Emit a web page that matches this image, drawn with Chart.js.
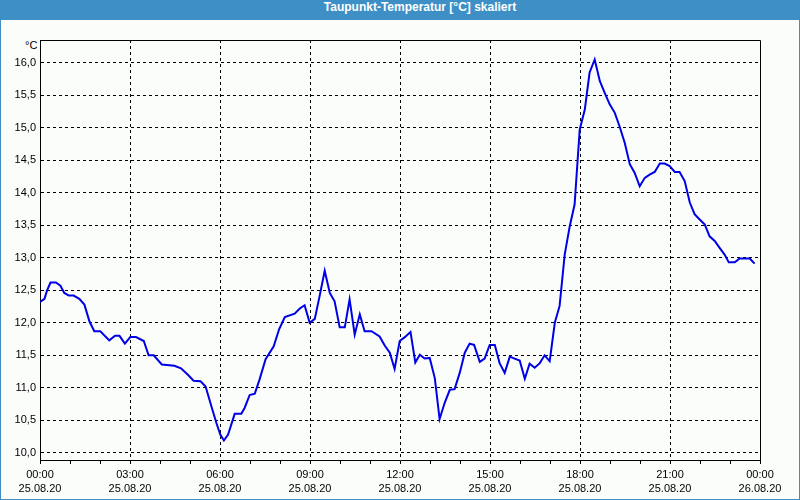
<!DOCTYPE html>
<html>
<head>
<meta charset="utf-8">
<script src="https://cdn.jsdelivr.net/npm/chart.js@4/dist/chart.umd.min.js"></script>
<style>
  html, body { margin: 0; padding: 0; background: #3d8fc5; }
  #frame { position: relative; width: 800px; height: 500px; overflow: hidden; }
  #inner { position: absolute; left: 1px; top: 20px; width: 798px; height: 479px; background: #fbfdfb; }
  #title { position: absolute; left: 20px; top: 0; width: 800px; height: 20px; line-height: 20px;
           text-align: center; color: #fff; font: bold 12px "Liberation Sans", Arial, sans-serif; }
  #unit { position: absolute; left: 25px; top: 39px; font: 11px "Liberation Sans", Arial, sans-serif; color: #000; }
  #chart { position: absolute; left: 0; top: 0; }
</style>
</head>
<body>
<div id="frame">
  <div id="inner"></div>
  <div id="title">Taupunkt-Temperatur [°C] skaliert</div>
  <div id="unit">°C</div>
  <canvas id="chart" width="800" height="500"></canvas>
</div>
<script>
// hours since 25.08.20 00:00
const times = [
  0, 0.15, 0.23, 0.35, 0.53, 0.68, 0.81, 0.96, 1.12, 1.31, 1.48, 1.65, 1.81, 2.01, 2.31, 2.5, 2.65, 2.83,
  3.01, 3.2, 3.46, 3.62, 3.79, 4.06, 4.48, 4.7, 4.93, 5.12, 5.35, 5.52, 5.71, 5.88, 6.01, 6.13, 6.27, 6.49,
  6.71, 6.82, 6.99, 7.16, 7.32, 7.52, 7.79, 7.97, 8.16, 8.49, 8.66, 8.82, 8.99, 9.16, 9.32, 9.49, 9.66, 9.82,
  9.99, 10.16, 10.32, 10.49, 10.66, 10.82, 11.05, 11.32, 11.49, 11.66, 11.82, 11.99, 12.16, 12.35, 12.51,
  12.66, 12.82, 12.99, 13.16, 13.32, 13.49, 13.66, 13.82, 13.99, 14.16, 14.32, 14.47, 14.66, 14.82, 14.99,
  15.16, 15.32, 15.49, 15.66, 15.82, 15.99, 16.16, 16.32, 16.49, 16.66, 16.82, 16.99, 17.16, 17.32, 17.49,
  17.66, 17.82, 17.99, 18.16, 18.32, 18.49, 18.66, 18.82, 18.99, 19.16, 19.32, 19.49, 19.66, 19.82, 19.99,
  20.16, 20.32, 20.49, 20.66, 20.82, 20.99, 21.16, 21.32, 21.49, 21.66, 21.82, 21.99, 22.16, 22.32, 22.49,
  22.66, 22.82, 22.96, 23.16, 23.32, 23.66, 23.82
];
const dewPoint = [
  12.32, 12.37, 12.49, 12.62, 12.62, 12.57, 12.46, 12.42, 12.42, 12.37, 12.28, 12.02, 11.87, 11.87, 11.73, 11.80, 11.80, 11.68,
  11.78, 11.78, 11.72, 11.50, 11.50, 11.36, 11.34, 11.30, 11.20, 11.11, 11.10, 11.02, 10.72, 10.46, 10.28, 10.19, 10.28, 10.60,
  10.60, 10.69, 10.89, 10.91, 11.13, 11.44, 11.64, 11.90, 12.09, 12.14, 12.22, 12.27, 12.00, 12.06, 12.41, 12.80, 12.46, 12.33,
  11.93, 11.93, 12.36, 11.82, 12.13, 11.87, 11.87, 11.79, 11.65, 11.54, 11.29, 11.72, 11.78, 11.86, 11.39,
  11.51, 11.45, 11.46, 11.15, 10.52, 10.77, 10.97, 10.98, 11.23, 11.54, 11.68, 11.66, 11.40, 11.45, 11.66,
  11.66, 11.38, 11.23, 11.48, 11.45, 11.42, 11.14, 11.37, 11.31, 11.38, 11.50, 11.41, 12.00, 12.26, 13.05,
  13.49, 13.82, 14.97, 15.28, 15.85, 16.05, 15.72, 15.54, 15.36, 15.23, 15.02, 14.77, 14.44, 14.31, 14.10,
  14.23, 14.28, 14.32, 14.45, 14.45, 14.41, 14.32, 14.32, 14.18, 13.85, 13.67, 13.59, 13.51, 13.33, 13.26,
  13.15, 13.05, 12.93, 12.93, 12.99, 12.99, 12.91
];
const timeLabels = ['00:00', '03:00', '06:00', '09:00', '12:00', '15:00', '18:00', '21:00', '00:00'];
const dateLabels = ['25.08.20', '25.08.20', '25.08.20', '25.08.20', '25.08.20', '25.08.20', '25.08.20', '25.08.20', '26.08.20'];
const yTickLabels = ['10,0', '10,5', '11,0', '11,5', '12,0', '12,5', '13,0', '13,5', '14,0', '14,5', '15,0', '15,5', '16,0'];

const font = { family: '"Liberation Sans", Arial, sans-serif', size: 11 };

const frameBox = {
  id: 'frameBox',
  afterDraw(chart) {
    const { ctx, chartArea: a } = chart;
    ctx.save();
    ctx.strokeStyle = '#000';
    ctx.lineWidth = 1;
    ctx.beginPath();
    ctx.moveTo(Math.round(a.left) + 0.5, Math.round(a.top) + 0.5);
    ctx.lineTo(Math.round(a.right) + 0.5, Math.round(a.top) + 0.5);
    ctx.lineTo(Math.round(a.right) + 0.5, Math.round(a.bottom) + 0.5);
    ctx.stroke();
    ctx.restore();
  }
};

new Chart(document.getElementById('chart'), {
  type: 'line',
  data: {
    datasets: [{
      data: times.map((t, i) => ({ x: t, y: dewPoint[i] })),
      borderColor: '#0000e6',
      borderWidth: 2,
      pointRadius: 0,
      tension: 0,
      fill: false
    }]
  },
  options: {
    responsive: false,
    animation: false,
    devicePixelRatio: 1,
    layout: { padding: { top: 40, right: 40, left: 0, bottom: 0 } },
    plugins: { legend: { display: false }, tooltip: { enabled: false } },
    scales: {
      x: {
        type: 'linear',
        min: 0,
        max: 24,
        afterFit: s => { s.height = 40; },
        ticks: {
          stepSize: 1,
          autoSkip: false,
          maxRotation: 0,
          padding: 3,
          color: '#000',
          font: { ...font, lineHeight: 1.36 },
          callback: v => v % 3 === 0 ? [timeLabels[v / 3], dateLabels[v / 3]] : ''
        },
        grid: {
          color: c => (c.tick && c.tick.value % 3 === 0 && c.tick.value > 0 && c.tick.value < 24) ? '#000' : 'rgba(0,0,0,0)',
          tickColor: '#000',
          tickLength: 4,
          tickBorderDash: []
        },
        border: { display: true, color: '#000', width: 1, dash: [3, 3] }
      },
      y: {
        min: 9.89,
        max: 16.35,
        afterFit: s => { s.width = 40; },
        ticks: {
          stepSize: 0.5,
          includeBounds: false,
          padding: 4,
          color: '#000',
          font,
          callback: v => yTickLabels[Math.round((v - 10) * 2)]
        },
        grid: { color: '#000', drawTicks: false },
        border: { display: true, color: '#000', width: 1, dash: [3, 3] }
      }
    }
  },
  plugins: [frameBox]
});
</script>
</body>
</html>
